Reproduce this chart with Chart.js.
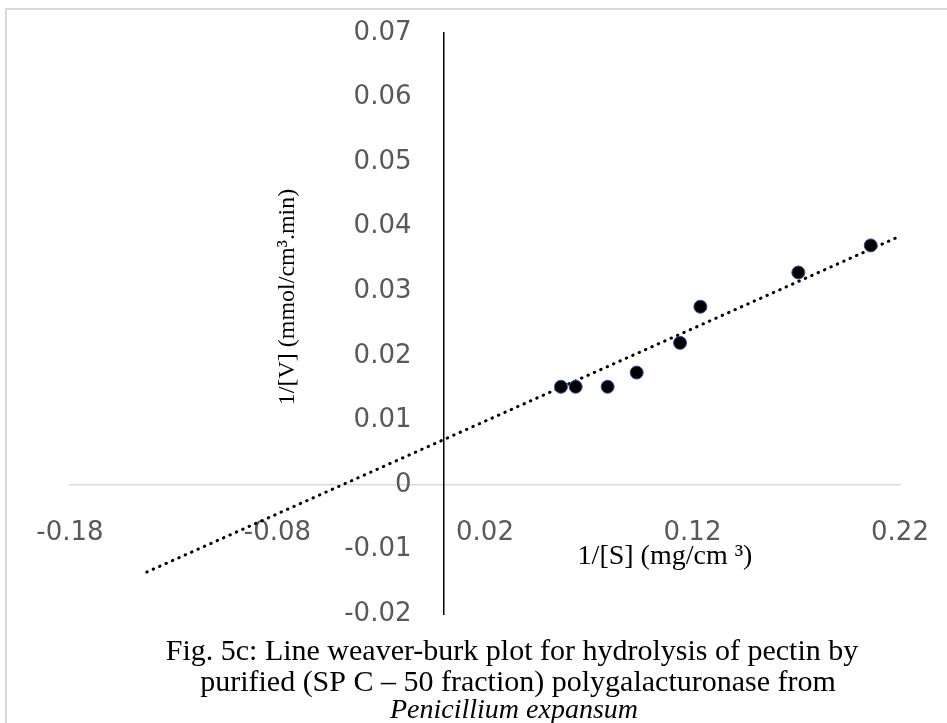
<!DOCTYPE html>
<html>
<head>
<meta charset="utf-8">
<script src="https://cdn.jsdelivr.net/npm/chart.js@4"></script>
<style>
  html, body { margin: 0; padding: 0; background: #ffffff; }
  #wrap { width: 947px; height: 723px; position: relative; }
</style>
</head>
<body>
<div id="wrap"><canvas id="c" width="947" height="723"></canvas></div>
<script>
// ---- data ----
const substrateInv = [0.0566, 0.0637, 0.0791, 0.0931, 0.1140, 0.1238, 0.1710, 0.2059]; // 1/[S]
const velocityInv  = [0.0152, 0.0152, 0.0152, 0.0174, 0.0220, 0.0276, 0.0329, 0.0371]; // 1/[V]
const trendX = [-0.143, 0.2194];
const trendY = [-0.0135, 0.03845];
const xTicks = [-0.18, -0.08, 0.02, 0.12, 0.22];
const xTickLabels = ['-0.18', '-0.08', '0.02', '0.12', '0.22'];
const yTicks = [0.07, 0.06, 0.05, 0.04, 0.03, 0.02, 0.01, 0, -0.01, -0.02];
const yTickLabels = ['0.07', '0.06', '0.05', '0.04', '0.03', '0.02', '0.01', '0', '-0.01', '-0.02'];
const xTitle = '1/[S] (mg/cm \u00B3)';
const yTitle = '1/[V] (mmol/cm\u00B3.min)';
const captionLines = [
  'Fig. 5c: Line weaver-burk plot for hydrolysis of pectin by',
  'purified (SP C \u2013 50 fraction) polygalacturonase from'
];
const captionItalic = 'Penicillium expansum';

const points = substrateInv.map((x, i) => ({ x: x, y: velocityInv[i] }));
const trend = trendX.map((x, i) => ({ x: x, y: trendY[i] }));

// shift tick labels away from the crossing axes (object-positioned axes ignore ticks.padding)
const labelShift = { x: [0, 33], y: [-32, 0] };
const shiftLabels = {
  id: 'shiftLabels',
  afterLayout(chart) {
    ['x', 'y'].forEach(id => {
      const s = chart.scales[id];
      if (s && !s.__shifted) {
        const orig = s.drawLabels;
        s.drawLabels = function (area) {
          this.ctx.save();
          this.ctx.translate(labelShift[id][0], labelShift[id][1]);
          orig.call(this, area);
          this.ctx.restore();
        };
        s.__shifted = true;
      }
    });
  }
};

const decor = {
  id: 'decor',
  beforeDraw(chart) {
    const ctx = chart.ctx;
    ctx.save();
    ctx.fillStyle = '#ffffff';
    ctx.fillRect(0, 0, chart.width, chart.height);
    ctx.fillStyle = '#d9d9d9';
    ctx.fillRect(5, 8, chart.width - 5, 2);
    ctx.fillRect(5, 8, 2, chart.height - 8);
    ctx.restore();
  },
  afterDraw(chart) {
    const ctx = chart.ctx;
    ctx.save();
    ctx.fillStyle = '#000000';
    ctx.textAlign = 'center';
    ctx.textBaseline = 'middle';
    // x title
    ctx.font = '28px "Liberation Serif", "Times New Roman", serif';
    ctx.fillText(xTitle, 665, 557);
    // y title
    ctx.font = '24px "Liberation Serif", "Times New Roman", serif';
    ctx.save();
    ctx.translate(288, 297);
    ctx.rotate(-Math.PI / 2);
    ctx.fillText(yTitle, 0, 0);
    ctx.restore();
    // caption
    ctx.font = '30px "Liberation Serif", "Times New Roman", serif';
    ctx.fillText(captionLines[0], 512, 652);
    ctx.fillText(captionLines[1], 518, 683);
    ctx.font = 'italic 28px "Liberation Serif", "Times New Roman", serif';
    ctx.fillText(captionItalic, 514, 711);
    ctx.restore();
  }
};

const tickFont = { family: '"DejaVu Sans", sans-serif', size: 26 };

new Chart(document.getElementById('c'), {
  type: 'scatter',
  data: {
    datasets: [
      {
        label: 'data',
        data: points,
        backgroundColor: '#000000',
        borderColor: '#2f5597',
        borderWidth: 1,
        pointRadius: 6.5,
        pointHoverRadius: 6.5,
        order: 1
      },
      {
        label: 'trend',
        type: 'line',
        data: trend,
        showLine: true,
        fill: false,
        borderColor: '#000000',
        borderWidth: 3,
        borderDash: [0.5, 6.5],
        borderCapStyle: 'round',
        pointRadius: 0,
        order: 2
      }
    ]
  },
  options: {
    responsive: false,
    animation: false,
    events: [],
    layout: { padding: { left: 70, right: 47, top: 33, bottom: 109 } },
    plugins: { legend: { display: false }, tooltip: { enabled: false }, title: { display: false } },
    scales: {
      x: {
        type: 'linear',
        position: { y: 0 },
        min: -0.18,
        max: 0.22,
        afterBuildTicks: (s) => { s.ticks = xTicks.map(v => ({ value: v })); },
        grid: { display: false, drawTicks: false },
        border: { display: true, color: '#d9d9d9', width: 1.5 },
        ticks: {
          autoSkip: false,
          maxRotation: 0,
          padding: 0,
          color: '#595959',
          font: tickFont,
          callback: (v) => { const i = xTicks.findIndex(t => Math.abs(t - v) < 1e-9); return i >= 0 ? xTickLabels[i] : ''; }
        }
      },
      y: {
        type: 'linear',
        position: { x: 0 },
        min: -0.02,
        max: 0.07,
        afterBuildTicks: (s) => { s.ticks = yTicks.map(v => ({ value: v })); },
        grid: { display: false, drawTicks: false },
        border: { display: true, color: '#000000', width: 1.5 },
        ticks: {
          autoSkip: false,
          padding: 0,
          color: '#595959',
          font: tickFont,
          callback: (v) => { const i = yTicks.findIndex(t => Math.abs(t - v) < 1e-9); return i >= 0 ? yTickLabels[i] : ''; }
        }
      }
    }
  },
  plugins: [decor, shiftLabels]
});
</script>
</body>
</html>
